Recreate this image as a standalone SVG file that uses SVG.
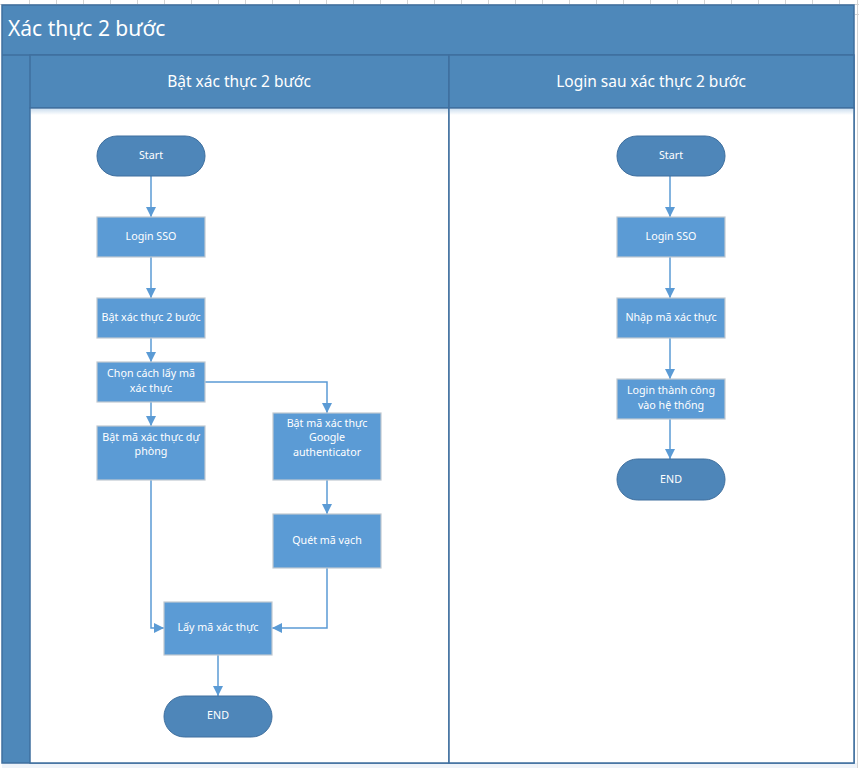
<svg xmlns="http://www.w3.org/2000/svg" width="859" height="768" viewBox="0 0 859 768">
<defs>
<style>
.grid{stroke:#d4d4d4;stroke-width:1}
.frame{fill:#4e88ba;stroke:#3f6f9e;stroke-width:1.5}
.body{fill:#ffffff;stroke:#3f6f9e;stroke-width:1.5}
.proc{fill:#5b9bd5;stroke:#c0c8d0;stroke-width:1.2}
.term{fill:#4e86b9;stroke:#3f6f9e;stroke-width:1}
.t{font-family:"Noto Sans","Open Sans","DejaVu Sans",sans-serif;fill:#ffffff;text-anchor:middle;dominant-baseline:central}
.n{font-size:10.7px}
.h{font-size:15.5px}
.conn{fill:none;stroke:#5b9bd5;stroke-width:1.5}
</style>
<marker id="arr" viewBox="0 0 10 10" refX="10" refY="5" markerWidth="10" markerHeight="10" markerUnits="userSpaceOnUse" orient="auto">
<path d="M0,0 L10,5 L0,10 z" fill="#5b9bd5"/>
</marker>
<linearGradient id="sh" x1="0" y1="0" x2="0" y2="1">
<stop offset="0" stop-color="#cfe0f0"/>
<stop offset="1" stop-color="#ffffff"/>
</linearGradient>
</defs>
<rect x="0" y="0" width="859" height="768" fill="#ffffff"/>
<g id="grid">
<line class="grid" x1="0" y1="4.5" x2="859" y2="4.5"/>
<line class="grid" x1="855" y1="14.5" x2="859" y2="14.5"/>
<line class="grid" x1="857.5" y1="0" x2="857.5" y2="768"/>
<path class="grid" d="M29.5 0V5M56.5 0V5M83.5 0V5M110.5 0V5M137.5 0V5M164.5 0V5M191.5 0V5M218.5 0V5M245.5 0V5M272.5 0V5M299.5 0V5M326.5 0V5M353.5 0V5M380.5 0V5M407.5 0V5M434.5 0V5M461.5 0V5M488.5 0V5M515.5 0V5M542.5 0V5M569.5 0V5M596.5 0V5M623.5 0V5M650.5 0V5M677.5 0V5M704.5 0V5M731.5 0V5M758.5 0V5M785.5 0V5M812.5 0V5M839.5 0V5"/>
</g>
<rect x="2" y="763" width="855" height="5" fill="#eef3f9"/>
<g id="pool">
<rect class="frame" x="2" y="5" width="852" height="758"/>
<text class="t" x="8" y="27.5" style="font-size:21px;text-anchor:start">Xác thực 2 bước</text>
<line x1="2" y1="55" x2="854" y2="55" stroke="#3f6f9e" stroke-width="1.5"/>
</g>
<g id="lane1">
<rect class="frame" x="30" y="55" width="419" height="53"/>
<rect class="body" x="30" y="108" width="419" height="655"/>
<rect x="31" y="109" width="417" height="6" fill="url(#sh)"/>
<text class="t h" x="239" y="80.5">Bật xác thực 2 bước</text>
</g>
<g id="lane2">
<rect class="frame" x="449" y="55" width="405" height="53"/>
<rect class="body" x="449" y="108" width="405" height="655"/>
<rect x="450" y="109" width="403" height="6" fill="url(#sh)"/>
<text class="t h" x="651" y="80.5">Login sau xác thực 2 bước</text>
</g>
<g id="connectors">
<line class="conn" x1="151" y1="176" x2="151" y2="217" marker-end="url(#arr)"/>
<line class="conn" x1="151" y1="257" x2="151" y2="298" marker-end="url(#arr)"/>
<line class="conn" x1="151" y1="338" x2="151" y2="362" marker-end="url(#arr)"/>
<line class="conn" x1="151" y1="402" x2="151" y2="426" marker-end="url(#arr)"/>
<polyline class="conn" points="205,382 327,382 327,413" marker-end="url(#arr)"/>
<line class="conn" x1="327" y1="480" x2="327" y2="514" marker-end="url(#arr)"/>
<polyline class="conn" points="151,480 151,628 164,628" marker-end="url(#arr)"/>
<polyline class="conn" points="327,568 327,628 272,628" marker-end="url(#arr)"/>
<line class="conn" x1="218" y1="655" x2="218" y2="696" marker-end="url(#arr)"/>
<line class="conn" x1="670" y1="176" x2="670" y2="217" marker-end="url(#arr)"/>
<line class="conn" x1="670" y1="257" x2="670" y2="298" marker-end="url(#arr)"/>
<line class="conn" x1="670" y1="338" x2="670" y2="379" marker-end="url(#arr)"/>
<line class="conn" x1="670" y1="419" x2="670" y2="459" marker-end="url(#arr)"/>
</g>
<g id="start1"><rect class="term" x="97" y="136" width="108" height="40" rx="20"/><text class="t n" x="151" y="155">Start</text></g>
<g id="login1"><rect class="proc" x="97" y="217" width="108" height="40"/><text class="t n" x="151" y="236">Login SSO</text></g>
<g id="bat2buoc"><rect class="proc" x="97" y="298" width="108" height="40"/><text class="t n" x="151" y="317">Bật xác thực 2 bước</text></g>
<g id="chon"><rect class="proc" x="97" y="362" width="108" height="40"/><text class="t n" x="151" y="373">Chọn cách lấy mã</text><text class="t n" x="151" y="388">xác thực</text></g>
<g id="duphong"><rect class="proc" x="97" y="426" width="108" height="54"/><text class="t n" x="151" y="437">Bật mã xác thực dự</text><text class="t n" x="151" y="451">phòng</text></g>
<g id="google"><rect class="proc" x="273" y="413" width="108" height="67"/><text class="t n" x="327" y="423">Bật mã xác thực</text><text class="t n" x="327" y="437">Google</text><text class="t n" x="327" y="452">authenticator</text></g>
<g id="quet"><rect class="proc" x="273" y="514" width="108" height="54"/><text class="t n" x="327" y="540">Quét mã vạch</text></g>
<g id="layma"><rect class="proc" x="164" y="602" width="108" height="53"/><text class="t n" x="218" y="627">Lấy mã xác thực</text></g>
<g id="end1"><rect class="term" x="164" y="696" width="108" height="41" rx="20.5"/><text class="t n" x="218" y="715">END</text></g>
<g id="start2"><rect class="term" x="617" y="136" width="108" height="40" rx="20"/><text class="t n" x="671" y="155">Start</text></g>
<g id="login2"><rect class="proc" x="617" y="217" width="108" height="40"/><text class="t n" x="671" y="236">Login SSO</text></g>
<g id="nhap"><rect class="proc" x="617" y="298" width="108" height="40"/><text class="t n" x="671" y="317">Nhập mã xác thực</text></g>
<g id="thanhcong"><rect class="proc" x="617" y="379" width="108" height="40"/><text class="t n" x="671" y="390">Login thành công</text><text class="t n" x="671" y="405">vào hệ thống</text></g>
<g id="end2"><rect class="term" x="617" y="459" width="108" height="41" rx="20.5"/><text class="t n" x="671" y="479">END</text></g>
</svg>
